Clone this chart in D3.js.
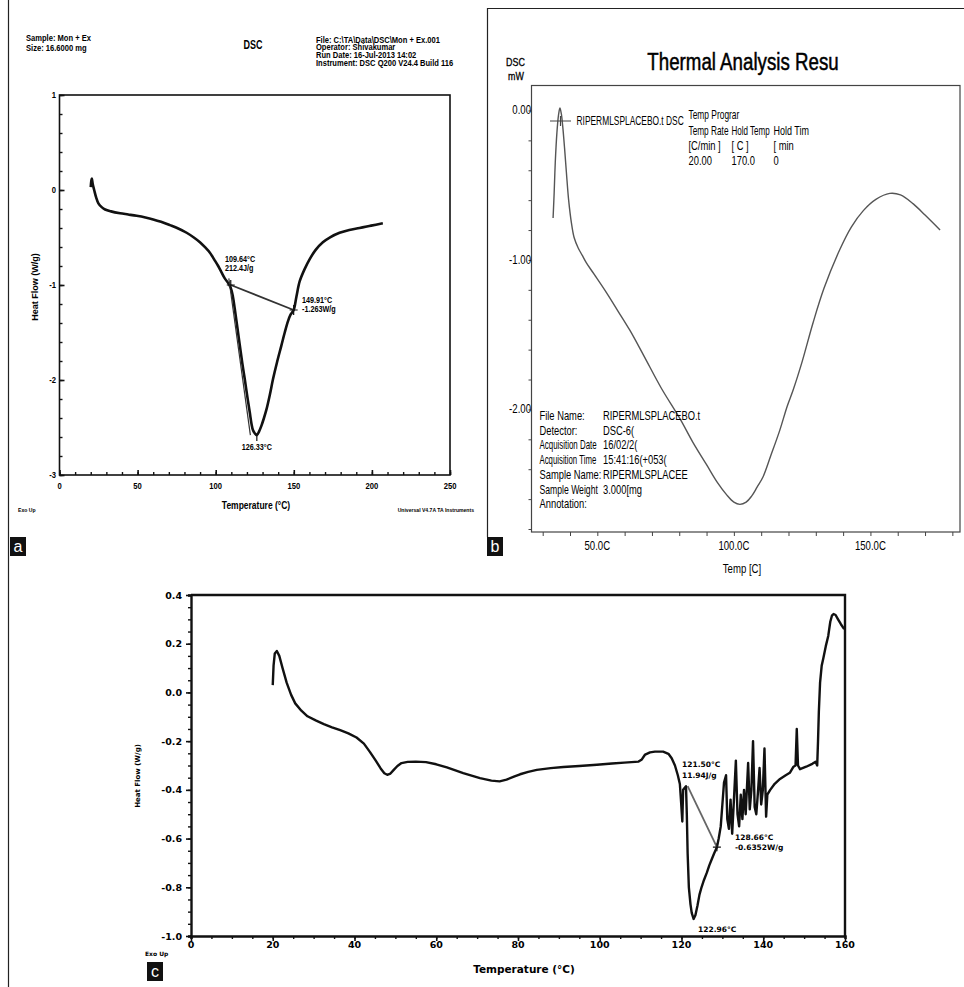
<!DOCTYPE html>
<html><head><meta charset="utf-8">
<script src="https://cdn.jsdelivr.net/npm/d3@7"></script>
<style>body{margin:0;background:#fff}svg{display:block}</style>
</head><body>
<script>
// ---- Panel a: DSC, sample "Mon + Ex" ----
const aTemp = [20.0,20.4,20.7,21.3,22.2,23.5,24.9,27.0,29.2,33.0,38.8,44.0,49.4,55.0,60.0,65.0,70.7,76.0,81.4,86.0,89.9,93.3,96.3,99.0,101.6,103.8,105.8,108.0,109.64,111.0,112.2,113.8,115.4,117.0,118.6,120.2,121.8,122.9,123.9,125.0,126.33,127.8,129.3,130.9,132.5,134.6,136.7,139.3,142.0,144.2,146.3,148.0,149.91,151.7,153.8,157.0,160.1,164.0,168.6,173.5,179.3,185.5,192.1,199.5,207.0];
const aFlow = [0.03,0.10,0.12,0.06,0.0,-0.08,-0.14,-0.18,-0.205,-0.225,-0.245,-0.258,-0.272,-0.29,-0.31,-0.335,-0.37,-0.405,-0.45,-0.50,-0.55,-0.605,-0.66,-0.73,-0.80,-0.87,-0.93,-0.98,-1.03,-1.12,-1.25,-1.44,-1.63,-1.82,-1.99,-2.17,-2.34,-2.46,-2.53,-2.56,-2.58,-2.54,-2.48,-2.40,-2.31,-2.16,-1.99,-1.81,-1.64,-1.50,-1.38,-1.31,-1.263,-1.12,-0.96,-0.83,-0.73,-0.63,-0.55,-0.495,-0.45,-0.42,-0.40,-0.375,-0.35];
const aTicksX = [0,50,100,150,200,250];
const aTicksY = [1,0,-1,-2,-3];
const aOnset = {t:109.64, v:-1.0, label:"109.64°C", area:"212.4J/g"};
const aEnd = {t:149.91, v:-1.263, label:"149.91°C", flow:"-1.263W/g"};
const aPeak = {t:126.33, v:-2.58, label:"126.33°C"};
const aTangent = [[108.4,-0.93],[122.2,-2.58]];

// ---- Panel b: Thermal analysis, placebo ----
const bTemp = [33.8,34.2,34.6,35.2,35.8,36.3,36.8,37.3,38.0,38.7,39.5,40.5,41.5,43.0,44.5,46.0,49.0,53.4,57.5,61.9,67.0,73.5,80.2,85.0,90.0,94.0,97.3,100.0,102.2,104.5,106.5,108.5,110.7,113.5,116.8,119.5,121.7,125.0,129.0,133.0,138.8,143.0,147.4,152.0,157.1,161.0,165.7,170.0,175.5];
const bFlow = [-0.72,-0.55,-0.35,-0.15,-0.03,0.016,-0.02,-0.10,-0.25,-0.42,-0.60,-0.75,-0.85,-0.92,-0.97,-1.02,-1.10,-1.22,-1.34,-1.47,-1.64,-1.86,-2.06,-2.22,-2.37,-2.49,-2.57,-2.62,-2.635,-2.62,-2.58,-2.52,-2.45,-2.31,-2.14,-1.98,-1.87,-1.68,-1.42,-1.19,-0.93,-0.78,-0.67,-0.595,-0.555,-0.565,-0.625,-0.70,-0.80];
const bTicksX = [50,100,150];
const bTickLabelsX = ["50.0C","100.0C","150.0C"];
const bTicksY = [0,-1,-2];
const bTickLabelsY = ["0.00","-1.00","-2.00"];
const bInfoLabels = ["File Name:","Detector:","Acquisition Date","Acquisition Time","Sample Name:","Sample Weight","Annotation:"];
const bInfoValues = ["RIPERMLSPLACEBO.t","DSC-6(","16/02/2(","15:41:16(+053(","RIPERMLSPLACEE","3.000[mg",""];
const bProgramTitle = "Temp Prograr";
const bProgram = [["Temp Rate","Hold Temp","Hold Tim"],["[C/min ]","[ C ]","[ min "],["20.00","170.0","0"]];

// ---- Panel c: DSC with decomposition ----
const cTemp = [20.0,20.2,20.5,21.0,21.6,22.4,23.4,24.5,25.5,27.0,28.5,30.5,32.5,34.5,36.5,38.5,40.5,42.3,43.8,45.2,46.4,47.3,48.0,48.8,49.6,50.5,51.5,53.0,55.0,57.5,60.0,62.6,66.6,70.7,73.5,75.5,77.2,79.0,80.5,82.5,84.6,88.0,91.1,95.0,99.3,103.0,106.0,109.5,110.3,111.1,112.3,113.5,115.5,116.8,117.6,118.4,119.1,119.6,119.9,120.2,120.4,121.1,121.3,121.5,121.8,122.2,122.5,122.96,123.4,123.9,124.4,124.9,125.5,126.2,126.8,127.4,128.0,128.66,129.1,129.6,130.0,130.4,130.9,131.2,131.6,132.0,132.4,132.8,133.3,133.7,134.1,134.5,134.9,135.3,135.7,136.3,136.7,137.1,137.5,137.9,138.3,138.7,139.1,139.5,139.9,140.3,140.7,141.0,141.7,142.8,144.1,145.5,146.5,147.4,147.9,148.2,148.5,149.0,150.5,152.0,152.8,153.2,153.4,153.6,153.9,154.3,154.7,155.3,155.9,156.4,156.8,157.2,157.7,158.3,159.0,159.8];
const cFlow = [0.03,0.11,0.16,0.17,0.15,0.10,0.04,-0.01,-0.045,-0.075,-0.098,-0.115,-0.13,-0.143,-0.155,-0.168,-0.185,-0.21,-0.245,-0.28,-0.312,-0.332,-0.338,-0.333,-0.318,-0.302,-0.29,-0.285,-0.284,-0.286,-0.295,-0.308,-0.331,-0.352,-0.362,-0.365,-0.358,-0.346,-0.336,-0.326,-0.318,-0.311,-0.306,-0.302,-0.297,-0.292,-0.288,-0.284,-0.275,-0.255,-0.246,-0.243,-0.243,-0.252,-0.27,-0.30,-0.34,-0.376,-0.45,-0.53,-0.40,-0.385,-0.50,-0.66,-0.80,-0.87,-0.905,-0.93,-0.915,-0.876,-0.83,-0.80,-0.77,-0.74,-0.71,-0.685,-0.66,-0.6352,-0.60,-0.55,-0.46,-0.37,-0.34,-0.52,-0.56,-0.44,-0.58,-0.45,-0.28,-0.50,-0.55,-0.42,-0.52,-0.40,-0.50,-0.29,-0.48,-0.40,-0.20,-0.47,-0.50,-0.41,-0.31,-0.46,-0.40,-0.23,-0.51,-0.42,-0.40,-0.375,-0.355,-0.34,-0.33,-0.305,-0.30,-0.15,-0.30,-0.315,-0.305,-0.293,-0.285,-0.30,-0.20,-0.08,0.04,0.11,0.14,0.19,0.232,0.29,0.315,0.322,0.318,0.30,0.28,0.26];
const cTicksX = [0,20,40,60,80,100,120,140,160];
const cTicksY = [0.4,0.2,0.0,-0.2,-0.4,-0.6,-0.8,-1.0];
const cStart = {t:121.50, v:-0.385, label:"121.50°C", area:"11.94J/g"};
const cEnd = {t:128.66, v:-0.6352, label:"128.66°C", flow:"-0.6352W/g"};
const cPeak = {t:122.96, v:-0.93, label:"122.96°C"};

const W = 964, H = 987;
const svg = d3.select("body").append("svg").attr("width", W).attr("height", H);
svg.append("rect").attr("width", W).attr("height", H).attr("fill", "#fff");

const SANS = "'Liberation Sans', Arial, sans-serif";
const WIDE = "'DejaVu Sans', Verdana, sans-serif";
// text helper: o.sx squeezes the glyphs horizontally
function label(g, x, y, s, o = {}) {
  const t = g.append("text")
    .attr("transform", `translate(${x},${y}) scale(${o.sx || 1},1)` + (o.rot ? ` rotate(${o.rot})` : ""))
    .attr("font-family", o.ff || SANS)
    .attr("font-size", o.fs || 8)
    .attr("font-weight", o.fw || "bold")
    .attr("text-anchor", o.anchor || "start")
    .attr("fill", o.fill || "#000")
    .text(s);
  if (o.stroke) t.attr("stroke", o.fill || "#000").attr("stroke-width", o.stroke);
  return t;
}

// outer panel rules
const frame = svg.append("g").attr("stroke", "#222").attr("stroke-width", 1.2);
frame.append("line").attr("x1", 8.5).attr("y1", 0).attr("x2", 8.5).attr("y2", H);
frame.append("line").attr("x1", 487.5).attr("y1", 8).attr("x2", 487.5).attr("y2", 537);
frame.append("line").attr("x1", 487).attr("y1", 8.5).attr("x2", W).attr("y2", 8.5);

function panelTag(x, y, s) {
  svg.append("rect").attr("x", x).attr("y", y).attr("width", 16).attr("height", 19).attr("fill", "#111");
  label(svg, x + 8, y + 15, s, {fs: 16, fw: "normal", anchor: "middle", fill: "#fff"});
}
panelTag(10, 537, "a");
panelTag(487, 537, "b");
panelTag(147, 962, "c");

// ===== Panel a =====
{
  const g = svg.append("g");
  const x = d3.scaleLinear().domain([0, 250]).range([59.5, 450]);
  const y = d3.scaleLinear().domain([-3, 1]).range([475, 95]);

  label(g, 26, 41, "Sample: Mon + Ex", {fs: 8.6, sx: 0.88});
  label(g, 26, 50.5, "Size: 16.6000 mg", {fs: 8.6, sx: 0.88});
  label(g, 253, 49, "DSC", {fs: 12.5, anchor: "middle", sx: 0.72});
  ["File: C:\\TA\\Data\\DSC\\Mon + Ex.001", "Operator: Shivakumar", "Run Date: 16-Jul-2013 14:02", "Instrument: DSC Q200 V24.4 Build 116"]
    .forEach((s, i) => label(g, 316, 42.5 + i * 7.8, s, {fs: 8.8, sx: 0.86}));

  // frame
  g.append("rect").attr("x", x.range()[0]).attr("y", y.range()[1])
    .attr("width", x.range()[1] - x.range()[0]).attr("height", y.range()[0] - y.range()[1])
    .attr("fill", "none").attr("stroke", "#111").attr("stroke-width", 1.6);

  // axes: major ticks inward, minor ticks as short marks
  const ax = g.append("g").attr("transform", `translate(0,${y.range()[0]})`)
    .call(d3.axisBottom(x).tickValues(d3.range(0, 251, 10)).tickSize(-3).tickFormat(""));
  ax.select(".domain").remove();
  ax.selectAll("line").attr("stroke", "#111").attr("stroke-width", 1.4);
  const axM = g.append("g").attr("transform", `translate(0,${y.range()[0]})`)
    .call(d3.axisBottom(x).tickValues(aTicksX).tickSize(-5).tickFormat(""));
  axM.select(".domain").remove();
  axM.selectAll("line").attr("stroke", "#111").attr("stroke-width", 1.6);
  aTicksX.forEach(t => label(g, x(t), 489, String(t), {fs: 9, anchor: "middle", sx: 0.85}));

  const ay = g.append("g").attr("transform", `translate(${x.range()[0]},0)`)
    .call(d3.axisLeft(y).tickValues(d3.range(-3, 1.001, 0.2)).tickSize(-3).tickFormat(""));
  ay.select(".domain").remove();
  ay.selectAll("line").attr("stroke", "#111").attr("stroke-width", 1.4);
  const ayM = g.append("g").attr("transform", `translate(${x.range()[0]},0)`)
    .call(d3.axisLeft(y).tickValues(aTicksY).tickSize(-5).tickFormat(""));
  ayM.select(".domain").remove();
  ayM.selectAll("line").attr("stroke", "#111").attr("stroke-width", 1.6);
  aTicksY.forEach(t => label(g, 56, y(t) + 3, String(t), {fs: 9, anchor: "end", sx: 0.85}));

  label(g, 38, 287, "Heat Flow (W/g)", {fs: 9, anchor: "middle", rot: -90});
  label(g, 256, 509, "Temperature (°C)", {fs: 10, anchor: "middle", sx: 0.85});
  label(g, 18, 512, "Exo Up", {fs: 6, sx: 0.85});
  label(g, 474, 512, "Universal V4.7A TA Instruments", {fs: 6, anchor: "end", sx: 0.85});

  const line = d3.line().x(d => x(d[0])).y(d => y(d[1])).curve(d3.curveCatmullRom.alpha(0.5));
  g.append("path").datum(aTemp.map((t, i) => [t, aFlow[i]]))
    .attr("d", line).attr("fill", "none").attr("stroke", "#111").attr("stroke-width", 2.6)
    .attr("stroke-linejoin", "round");

  // integration baseline and onset tangent
  g.append("line").attr("x1", x(aOnset.t)).attr("y1", y(aOnset.v)).attr("x2", x(aEnd.t)).attr("y2", y(aEnd.v))
    .attr("stroke", "#333").attr("stroke-width", 1.8);
  g.append("line").attr("x1", x(aTangent[0][0])).attr("y1", y(aTangent[0][1]))
    .attr("x2", x(aTangent[1][0])).attr("y2", y(aTangent[1][1]))
    .attr("stroke", "#333").attr("stroke-width", 1.2);
  [aOnset, aEnd].forEach(p => {
    g.append("path").attr("d", `M${x(p.t) - 4},${y(p.v)}h8M${x(p.t)},${y(p.v) - 5}v10`)
      .attr("stroke", "#111").attr("stroke-width", 1.2);
  });
  g.append("path").attr("d", `M${x(aPeak.t)},${y(aPeak.v)}v6`).attr("stroke", "#111").attr("stroke-width", 1.2);

  label(g, 225, 262, aOnset.label, {fs: 8.5, sx: 0.85});
  label(g, 225, 271, aOnset.area, {fs: 8.5, sx: 0.85});
  label(g, 302, 303, aEnd.label, {fs: 8.5, sx: 0.85});
  label(g, 302, 312, aEnd.flow, {fs: 8.5, sx: 0.85});
  label(g, x(aPeak.t), 450, aPeak.label, {fs: 8.5, anchor: "middle", sx: 0.85});
}

// ===== Panel b =====
{
  const g = svg.append("g");
  const x = d3.scaleLinear().domain([25.9, 182.8]).range([531.5, 960]);
  const y = d3.scaleLinear().domain([-2.82, 0.167]).range([532, 85.5]);
  const AX = "#444";

  label(g, 743, 70, "Thermal Analysis Resu", {fs: 24, fw: "normal", anchor: "middle", sx: 0.78, stroke: 0.5});
  label(g, 506, 66, "DSC", {fs: 10.5, fw: "normal", sx: 0.85, stroke: 0.3});
  label(g, 508, 80, "mW", {fs: 10.5, fw: "normal", sx: 0.85, stroke: 0.3});

  g.append("rect").attr("x", x.range()[0]).attr("y", y.range()[1])
    .attr("width", x.range()[1] - x.range()[0]).attr("height", y.range()[0] - y.range()[1])
    .attr("fill", "none").attr("stroke", AX).attr("stroke-width", 1.2);

  const ax = g.append("g").attr("transform", `translate(0,${y.range()[0]})`)
    .call(d3.axisBottom(x).tickValues(d3.range(30, 181, 10)).tickSize(4).tickFormat(""));
  ax.select(".domain").remove();
  ax.selectAll("line").attr("stroke", AX);
  bTicksX.forEach((t, i) => label(g, x(t), 550, bTickLabelsX[i], {fs: 12, fw: "normal", anchor: "middle", sx: 0.8}));
  label(g, 742, 573, "Temp [C]", {fs: 12, fw: "normal", anchor: "middle", sx: 0.8});

  const ay = g.append("g").attr("transform", `translate(${x.range()[0]},0)`)
    .call(d3.axisLeft(y).tickValues(d3.range(-2.8, 0.01, 0.2)).tickSize(3).tickFormat(""));
  ay.select(".domain").remove();
  ay.selectAll("line").attr("stroke", AX);
  bTicksY.forEach((t, i) => label(g, 531, y(t) + 4, bTickLabelsY[i], {fs: 12, fw: "normal", anchor: "end", sx: 0.8}));

  const line = d3.line().x(d => x(d[0])).y(d => y(d[1])).curve(d3.curveCatmullRom.alpha(0.5));
  g.append("path").datum(bTemp.map((t, i) => [t, bFlow[i]]))
    .attr("d", line).attr("fill", "none").attr("stroke", "#555").attr("stroke-width", 1.4);

  // legend entry and temperature program
  g.append("path").attr("d", "M550,121h21M560.5,116v10").attr("stroke", "#444").attr("stroke-width", 1.2);
  label(g, 576.5, 125, "RIPERMLSPLACEBO.t DSC", {fs: 12, fw: "normal", sx: 0.7});
  label(g, 688.5, 119, bProgramTitle, {fs: 12, fw: "normal", sx: 0.7});
  const cols = [688.5, 731.5, 773.5];
  const rowSx = [[0.69, 0.67, 0.75], [0.78, 0.78, 0.78], [0.78, 0.78, 0.78]];
  bProgram.forEach((row, r) => row.forEach((s, c) =>
    label(g, cols[c], 135 + r * 15, s, {fs: 12, fw: "normal", sx: rowSx[r][c]})));

  // acquisition info block
  const labSx = [0.78, 0.78, 0.66, 0.65, 0.78, 0.72, 0.78];
  bInfoLabels.forEach((s, i) => label(g, 539.5, 420 + i * 14.7, s, {fs: 12, fw: "normal", sx: labSx[i]}));
  bInfoValues.forEach((s, i) => label(g, 603, 420 + i * 14.7, s, {fs: 12, fw: "normal", sx: 0.78}));
}

// ===== Panel c =====
{
  const g = svg.append("g");
  const x = d3.scaleLinear().domain([0, 160]).range([191, 845]);
  const y = d3.scaleLinear().domain([-1, 0.4]).range([936, 595]);

  g.append("path").attr("d", `M${x.range()[0]},${y.range()[1]}H${x.range()[1]}V${y.range()[0]}`)
    .attr("fill", "none").attr("stroke", "#111").attr("stroke-width", 2.4);

  const ax = g.append("g").attr("transform", `translate(0,${y.range()[0]})`)
    .call(d3.axisBottom(x).tickValues(d3.range(0, 161, 5)).tickSize(3).tickFormat(""));
  ax.select(".domain").attr("stroke", "#111").attr("stroke-width", 2.4);
  ax.selectAll("line").attr("stroke", "#111").attr("stroke-width", 1.4);
  const axM = g.append("g").attr("transform", `translate(0,${y.range()[0]})`)
    .call(d3.axisBottom(x).tickValues(cTicksX).tickSize(5).tickFormat(""));
  axM.select(".domain").remove();
  axM.selectAll("line").attr("stroke", "#111").attr("stroke-width", 1.6);
  cTicksX.forEach(t => label(g, x(t), 948, String(t), {fs: 9.5, anchor: "middle", ff: WIDE}));

  const ay = g.append("g").attr("transform", `translate(${x.range()[0]},0)`)
    .call(d3.axisLeft(y).tickValues(d3.range(-1, 0.401, 0.05)).tickSize(3).tickFormat(""));
  ay.select(".domain").attr("stroke", "#111").attr("stroke-width", 2.4);
  ay.selectAll("line").attr("stroke", "#111").attr("stroke-width", 1.4);
  const ayM = g.append("g").attr("transform", `translate(${x.range()[0]},0)`)
    .call(d3.axisLeft(y).tickValues(cTicksY).tickSize(5).tickFormat(""));
  ayM.select(".domain").remove();
  ayM.selectAll("line").attr("stroke", "#111").attr("stroke-width", 1.6);
  cTicksY.forEach(t => label(g, 182, y(t) + 3.5, d3.format(".1f")(t).replace("−", "-"), {fs: 9.5, anchor: "end", ff: WIDE}));

  label(g, 140, 776, "Heat Flow (W/g)", {fs: 7, anchor: "middle", rot: -90, ff: WIDE});
  label(g, 524, 973, "Temperature (°C)", {fs: 10.5, anchor: "middle", ff: WIDE});
  label(g, 145, 956, "Exo Up", {fs: 6, ff: WIDE});

  const line = d3.line().x(d => x(d[0])).y(d => y(d[1]));
  g.append("path").datum(cTemp.map((t, i) => [t, cFlow[i]]))
    .attr("d", line).attr("fill", "none").attr("stroke", "#111").attr("stroke-width", 2.4)
    .attr("stroke-linejoin", "round");

  g.append("line").attr("x1", x(cStart.t)).attr("y1", y(cStart.v)).attr("x2", x(cEnd.t)).attr("y2", y(cEnd.v))
    .attr("stroke", "#666").attr("stroke-width", 1.8);
  g.append("path").attr("d", `M${x(cEnd.t) - 4},${y(cEnd.v)}h8M${x(cEnd.t)},${y(cEnd.v) - 4}v8`)
    .attr("stroke", "#111").attr("stroke-width", 1.2);

  label(g, 682, 767, cStart.label, {fs: 7.5, ff: WIDE});
  label(g, 682, 778, cStart.area, {fs: 7.5, ff: WIDE});
  label(g, 735, 840, cEnd.label, {fs: 7.5, ff: WIDE});
  label(g, 735, 850, cEnd.flow, {fs: 7.5, ff: WIDE});
  label(g, 698, 932, cPeak.label, {fs: 7.5, ff: WIDE});
}
</script>
</body></html>
